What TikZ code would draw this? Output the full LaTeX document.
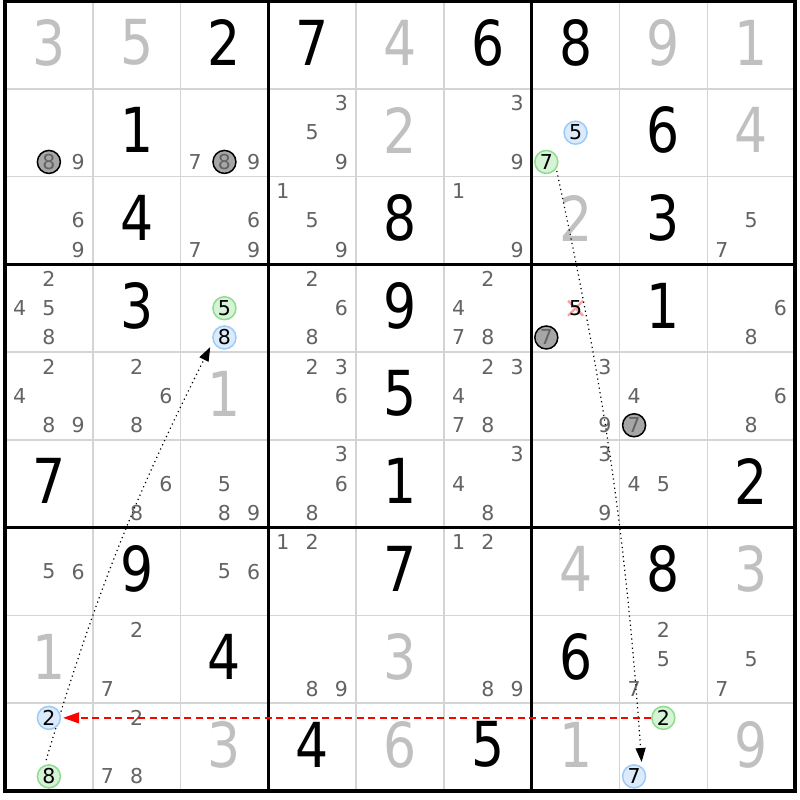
\documentclass[tikz,border=0pt]{standalone}
\usepackage{fontspec}
\setmainfont{DejaVu Sans}
\newfontfamily\bigdigits{DejaVu Sans}[FakeStretch=0.84]
\usetikzlibrary{arrows.meta}

\definecolor{solvedcol}{HTML}{C0C0C0}
\definecolor{candcol}{HTML}{636363}
\definecolor{gridcol}{HTML}{D4D4D4}
\definecolor{bluefill}{HTML}{DCEBFC}
\definecolor{bluedraw}{HTML}{9CCBF7}
\definecolor{greenfill}{HTML}{D5F3D5}
\definecolor{greendraw}{HTML}{8EDC8E}
\definecolor{darkfill}{HTML}{A6A6A6}
\definecolor{elimcol}{HTML}{F4A3A3}

\pgfdeclarelayer{background}
\pgfdeclarelayer{links}
\pgfdeclarelayer{front}
\pgfsetlayers{background,main,links,front}

\begin{document}
\begin{tikzpicture}[x=1pt,y=1pt,
    given/.style={inner sep=0pt,font=\bigdigits\fontsize{62}{62}\selectfont},
    solved/.style={given,text=solvedcol},
    cand/.style={inner sep=0pt,text=candcol,font=\fontsize{20.5}{20.5}\selectfont},
    darkc/.style={cand,circle,draw=black,fill=darkfill,line width=1.5pt,minimum size=23pt},
    bluec/.style={cand,text=black,circle,draw=bluedraw,fill=bluefill,line width=1.5pt,minimum size=23pt},
    greenc/.style={cand,text=black,circle,draw=greendraw,fill=greenfill,line width=1.5pt,minimum size=23pt},
    elim/.style={elimcol,line width=2.4pt},
    link/.style={line width=1.2pt,dash pattern=on 1.2pt off 3.4pt,-{Triangle[length=14pt,width=10pt]}},
    weak/.style={red,line width=1.3pt,dash pattern=on 7pt off 4.5pt,-{Triangle[length=16pt,width=11pt]}}]
    \useasboundingbox (0,0) rectangle (800,800);

    % grid
    \begin{pgfonlayer}{background}
        \fill[white] (0,0) rectangle (800,800);
        \foreach \i in {1,2,4,5,7,8} {
            \draw[gridcol,line width=1.5pt] ({5+87.78*\i},799) -- ({5+87.78*\i},{799-87.78*9});
            \draw[gridcol,line width=1.5pt] (5,{799-87.78*\i}) -- ({5+87.78*9},{799-87.78*\i});
        }
        \foreach \i in {0,3,6,9} {
            \draw[line width=3.4pt] ({5+87.78*\i},{799+1.7}) -- ({5+87.78*\i},{799-87.78*9-1.7});
            \draw[line width=3.4pt] ({5-1.7},{799-87.78*\i}) -- ({5+87.78*9+1.7},{799-87.78*\i});
        }
    \end{pgfonlayer}

    % givens and solved cells
    \foreach \r/\c/\d in {0/2/2, 0/3/7, 0/5/6, 0/6/8, 1/1/1, 1/7/6, 2/1/4, 2/4/8, 2/7/3,
            3/1/3, 3/4/9, 3/7/1, 4/4/5, 5/0/7, 5/4/1, 5/8/2, 6/1/9, 6/4/7, 6/7/8,
            7/2/4, 7/6/6, 8/3/4, 8/5/5}
        \node[given] (g\r\c) at ({5+87.78*(\c+0.5)},{799-87.78*(\r+0.5)+2.4}) {\d};
    \foreach \r/\c/\d in {0/0/3, 0/1/5, 0/4/4, 0/7/9, 0/8/1, 1/4/2, 1/8/4, 2/6/2, 4/2/1,
            6/6/4, 6/8/3, 7/0/1, 7/4/3, 8/2/3, 8/4/6, 8/6/1, 8/8/9}
        \node[solved] (s\r\c) at ({5+87.78*(\c+0.5)},{799-87.78*(\r+0.5)+2.4}) {\d};

    % candidates
    \foreach \r/\c/\ks in {1/0/{9}, 1/2/{7,9}, 1/3/{3,5,9}, 1/5/{3,9},
            2/0/{6,9}, 2/2/{6,7,9}, 2/3/{1,5,9}, 2/5/{1,9}, 2/8/{5,7},
            3/0/{2,4,5,8}, 3/3/{2,6,8}, 3/5/{2,4,7,8}, 3/8/{6,8},
            4/0/{2,4,8,9}, 4/1/{2,6,8}, 4/3/{2,3,6}, 4/5/{2,3,4,7,8}, 4/6/{3,9}, 4/7/{4}, 4/8/{6,8},
            5/1/{6,8}, 5/2/{5,8,9}, 5/3/{3,6,8}, 5/5/{3,4,8}, 5/6/{3,9}, 5/7/{4,5},
            6/0/{5,6}, 6/2/{5,6}, 6/3/{1,2}, 6/5/{1,2},
            7/1/{2,7}, 7/3/{8,9}, 7/5/{8,9}, 7/7/{2,5,7}, 7/8/{5,7},
            8/1/{2,7,8}} {
        \foreach \k in \ks {
            \pgfmathsetmacro{\xx}{5+87.78*\c+29.26*(mod(\k-1,3)+0.5)}
            \pgfmathsetmacro{\yy}{799-87.78*\r-29.26*(floor((\k-1)/3)+0.5)}
            \node[cand] (c\r\c\k) at (\xx,\yy) {\k};
        }
    }

    % eliminated candidate
    \coordinate (x365) at ({5+87.78*6+29.26*1.5},{799-87.78*3-29.26*1.5});
    \draw[elim] (x365) +(-7.5,-7.5) -- +(7.5,7.5) (x365) +(-7.5,7.5) -- +(7.5,-7.5);
    \node[cand,text=black] (c365) at (x365) {5};

    % marked candidates
    \begin{pgfonlayer}{front}
        \foreach \r/\c/\k/\sty in {1/0/8/darkc, 1/2/8/darkc, 3/6/7/darkc, 4/7/7/darkc,
                1/6/5/bluec, 3/2/8/bluec, 8/0/2/bluec, 8/7/7/bluec,
                1/6/7/greenc, 3/2/5/greenc, 8/0/8/greenc, 8/7/2/greenc} {
            \pgfmathsetmacro{\xx}{5+87.78*\c+29.26*(mod(\k-1,3)+0.5)}
            \pgfmathsetmacro{\yy}{799-87.78*\r-29.26*(floor((\k-1)/3)+0.5)}
            \node[\sty] (c\r\c\k) at (\xx,\yy) {\k};
        }
    \end{pgfonlayer}

    % links
    \begin{pgfonlayer}{links}
        \draw[link,shorten <=5pt,shorten >=6pt] (c808.110) to[bend left=5] (c328.200);
        \draw[link,shorten <=2pt,shorten >=5pt] (c167.325) to[bend left=4] (c877.50);
        \draw[weak,shorten >=2pt] (c872) -- (c802);
    \end{pgfonlayer}
\end{tikzpicture}
\end{document}
